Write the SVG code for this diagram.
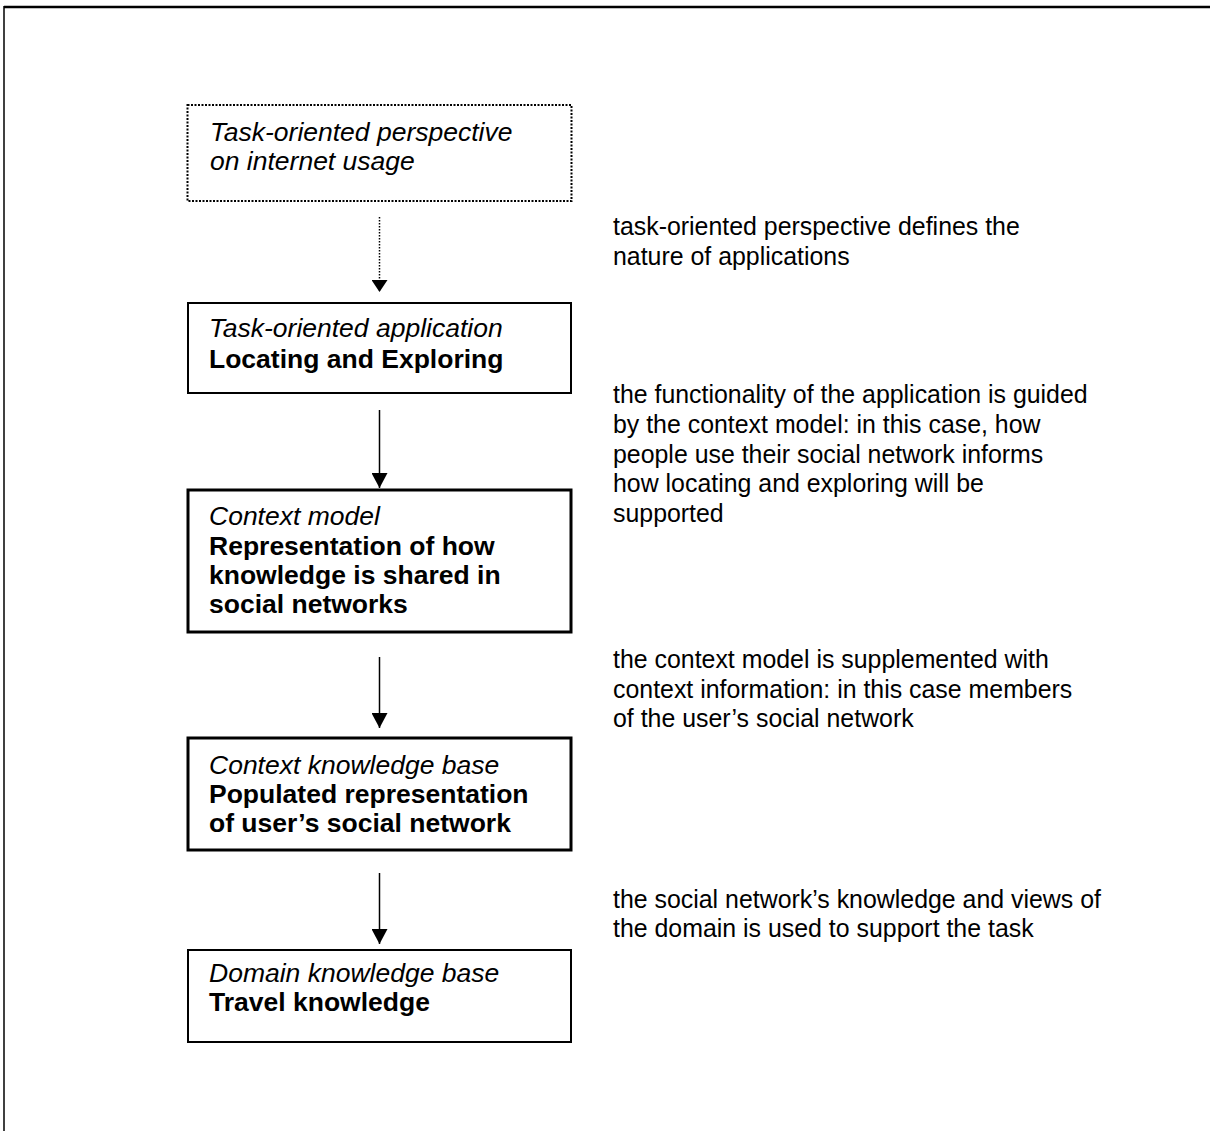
<svg xmlns="http://www.w3.org/2000/svg" width="1210" height="1131" viewBox="0 0 1210 1131">
<style>
.box{fill:#fff;stroke:#000}
.thin{stroke-width:2}
.thick{stroke-width:3}
.dot{stroke-width:2;stroke-dasharray:2 1.5}
.bt{font-family:"Liberation Sans",Arial,sans-serif;font-size:26.5px;fill:#000}
.it{font-style:italic}
.b{font-weight:bold}
.rt{font-family:"Liberation Sans",Arial,sans-serif;font-size:24.9px;fill:#000}
.conn{stroke:#000;stroke-width:1.5;fill:none}
</style>
<defs>
<marker id="ah" markerUnits="userSpaceOnUse" markerWidth="16" markerHeight="16" viewBox="0 0 16 16" refX="15" refY="8" orient="auto">
<path d="M0 0 L15 8 L0 16 Z" fill="#000"/>
</marker>
<marker id="ahs" markerUnits="userSpaceOnUse" markerWidth="16" markerHeight="16" viewBox="0 0 16 16" refX="12" refY="8" orient="auto">
<path d="M0 0 L12 8 L0 16 Z" fill="#000"/>
</marker>
<clipPath id="clipP2"><rect x="600" y="380" width="600" height="147"/></clipPath>
</defs>
<rect width="1210" height="1131" fill="#fff"/>
<g id="frame" fill="none" stroke="#000">
<line x1="4" y1="7" x2="1210" y2="7" stroke-width="2.5"/>
<line x1="4" y1="6" x2="4" y2="1131" stroke-width="1.5"/>
</g>
<g id="connectors">
<line class="conn" x1="379.5" y1="217" x2="379.5" y2="292" stroke-width="2" stroke-dasharray="1.5 1.5" marker-end="url(#ahs)"/>
<line class="conn" x1="379.5" y1="410" x2="379.5" y2="488" marker-end="url(#ah)"/>
<line class="conn" x1="379.5" y1="657" x2="379.5" y2="728" marker-end="url(#ah)"/>
<line class="conn" x1="379.5" y1="873" x2="379.5" y2="944" marker-end="url(#ah)"/>
</g>
<g id="n1">
<rect class="box dot" x="187.5" y="105" width="384" height="96"/>
<text class="bt it" x="210" y="141">Task-oriented perspective</text>
<text class="bt it" x="210" y="170">on internet usage</text>
</g>
<g id="n2">
<rect class="box thin" x="188" y="303" width="383" height="90"/>
<text class="bt it" x="209" y="337">Task-oriented application</text>
<text class="bt b" x="209" y="368">Locating and Exploring</text>
</g>
<g id="n3">
<rect class="box thick" x="188" y="490" width="383" height="142"/>
<text class="bt it" x="209" y="525">Context model</text>
<text class="bt b" x="209" y="555">Representation of how</text>
<text class="bt b" x="209" y="584">knowledge is shared in</text>
<text class="bt b" x="209" y="613">social networks</text>
</g>
<g id="n4">
<rect class="box thick" x="188" y="738" width="383" height="112"/>
<text class="bt it" x="209" y="774">Context knowledge base</text>
<text class="bt b" x="209" y="803">Populated representation</text>
<text class="bt b" x="209" y="832">of user’s social network</text>
</g>
<g id="n5">
<rect class="box thin" x="188" y="950" width="383" height="92"/>
<text class="bt it" x="209" y="982">Domain knowledge base</text>
<text class="bt b" x="209" y="1011">Travel knowledge</text>
</g>
<g id="labels">
<text class="rt" x="613" y="235">task-oriented perspective defines the</text>
<text class="rt" x="613" y="265">nature of applications</text>
<g clip-path="url(#clipP2)">
<text class="rt" x="613" y="403">the functionality of the application is guided</text>
<text class="rt" x="613" y="433">by the context model: in this case, how</text>
<text class="rt" x="613" y="463">people use their social network informs</text>
<text class="rt" x="613" y="492">how locating and exploring will be</text>
<text class="rt" x="613" y="522">supported</text>
</g>
<text class="rt" x="613" y="668">the context model is supplemented with</text>
<text class="rt" x="613" y="698">context information: in this case members</text>
<text class="rt" x="613" y="727">of the user’s social network</text>
<text class="rt" x="613" y="908">the social network’s knowledge and views of</text>
<text class="rt" x="613" y="937">the domain is used to support the task</text>
</g>
</svg>
